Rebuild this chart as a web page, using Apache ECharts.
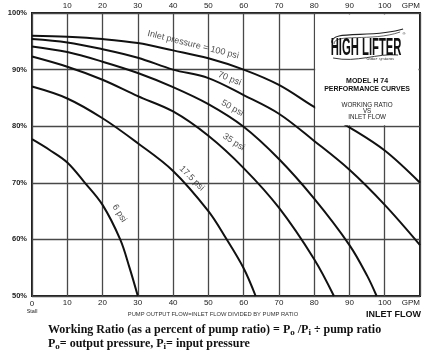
<!DOCTYPE html>
<html><head><meta charset="utf-8">
<script src="https://cdn.jsdelivr.net/npm/echarts@6/dist/echarts.min.js"></script>
<style>html,body{margin:0;padding:0;background:#fff}#c{width:428px;height:361px}</style>
</head><body><div id="c"></div><script>
// Inlet flow (GPM) vs working ratio (%) for each inlet pressure
const psi100 = [[0,96.0],[10,95.8],[20,95.4],[30,94.7],[40,93.4],[50,92.0],[60,90.0],[70,87.3],[80,83.4],[90,79.8],[100,75.7],[110,70.0]];
const psi70  = [[0,95.4],[10,94.8],[20,93.6],[30,92.1],[40,90.0],[50,88.5],[60,85.5],[70,82.2],[80,77.4],[90,72.3],[100,66.1],[110,59.0]];
const psi50  = [[0,94.1],[10,93.1],[20,91.4],[30,89.4],[40,86.9],[50,83.9],[60,79.9],[70,74.2],[80,67.2],[90,59.0],[95,53.6],[97.7,50]];
const psi35  = [[0,92.3],[10,90.5],[20,88.2],[30,85.3],[40,82.6],[50,78.3],[60,72.6],[70,65.6],[80,56.5],[85.6,50]];
const psi17  = [[0,87.0],[10,84.9],[20,81.4],[30,77.0],[40,72.1],[50,65.0],[55,60.2],[60,54.9],[63.4,50]];
const psi6   = [[0,77.7],[5,75.8],[10,73.6],[15,70.0],[20,66.1],[25,60.0],[27.6,55.1],[30,50]];
const curves = [psi100, psi70, psi50, psi35, psi17, psi6];

const curveLabels = ['Inlet pressure = 100 psi','70 psi','50 psi','35 psi','17.5 psi','6 psi'];
const labelAnchors = [[45.7,94.4],[56.0,88.4],[56.8,83.2],[57.2,77.2],[45.3,70.8],[24.8,64.6]];
const labelAngles = [-14,-22,-30,-33,-45,-58];

const xMin = 0, xMax = 110, xStep = 10;
const yMin = 50, yMax = 100, yStep = 10;

const chart = echarts.init(document.getElementById('c'), null, {renderer:'canvas'});
const tickFont = {fontFamily:'Liberation Sans, Arial, sans-serif', fontSize:8, color:'#222'};

const option = {
  backgroundColor:'#fff',
  animation:false,
  grid:{left:32, right:8, top:13, bottom:65, show:true, borderColor:'#1a1a1a', borderWidth:2, containLabel:false},
  xAxis:[{
    type:'value', min:xMin, max:xMax, interval:xStep, position:'bottom',
    axisLine:{show:false}, axisTick:{show:false},
    splitLine:{show:true, lineStyle:{color:'#484848', width:1.3}},
    axisLabel:Object.assign({margin:3, alignMaxLabel:'right',
      formatter:v => v===0 ? '{a|0}\n{s|Stall}' : (v===xMax ? 'GPM' : String(v)),
      rich:{a:{fontSize:8, fontFamily:'Liberation Sans, Arial, sans-serif', color:'#222', lineHeight:9},
            s:{fontSize:5.5, fontFamily:'Liberation Sans, Arial, sans-serif', color:'#222', lineHeight:7}}
    }, tickFont)
  },{
    type:'value', min:xMin, max:xMax, interval:xStep, position:'top',
    axisLine:{show:false}, axisTick:{show:false}, splitLine:{show:false},
    axisLabel:Object.assign({margin:3, alignMaxLabel:'right',
      formatter:v => v===0 ? '' : (v===xMax ? 'GPM' : String(v))}, tickFont)
  }],
  yAxis:{
    type:'value', min:yMin, max:yMax, interval:yStep,
    axisLine:{show:false}, axisTick:{show:false},
    splitLine:{show:true, lineStyle:{color:'#484848', width:1.3}},
    axisLabel:{margin:5, formatter:'{value}%', fontFamily:'Liberation Sans, Arial, sans-serif', fontSize:7.5, fontWeight:'bold', color:'#222'}
  },
  series: curves.map(d => ({
    type:'line', data:d, symbol:'none', smooth:0.35,
    lineStyle:{color:'#111', width:2}, z:3
  })).concat([{
    type:'scatter', symbolSize:0, z:4,
    data: labelAnchors.map((p,i) => ({value:p, label:{formatter:curveLabels[i], rotate:labelAngles[i]}})),
    label:{show:true, position:'inside', fontFamily:'Liberation Sans, Arial, sans-serif', fontSize:9, color:'#222'}
  }])
};
chart.setOption(option);

const p1 = chart.convertToPixel({gridIndex:0}, [80,100]);
const p2 = chart.convertToPixel({gridIndex:0}, [110,80]);
const cx = (p1[0]+p2[0])/2;
const boxTop = p1[1];
const bottomY = chart.convertToPixel({gridIndex:0}, [0,50])[1];
const sansB = 'Liberation Sans, Arial, sans-serif';
const serifB = 'Liberation Serif, Times New Roman, serif';
const richFormula = {
  m:{fontFamily:serifB, fontWeight:'bold', fontSize:12, fill:'#111', lineHeight:14, verticalAlign:'top'},
  s:{fontFamily:serifB, fontWeight:'bold', fontSize:9, fill:'#111', lineHeight:14, verticalAlign:'bottom'}
};

const graphics = [
  {type:'rect', z:50, shape:{x:p1[0]+1, y:p1[1]+1.5, width:p2[0]-p1[0]-2.5, height:p2[1]-p1[1]-2.5}, style:{fill:'#fff'}},
  // logo swoosh
  {type:'bezierCurve', z:51, shape:{x1:cx-35, y1:boxTop+30, cpx1:cx-38, cpy1:boxTop+16, cpx2:cx+5, cpy2:boxTop+26, x2:cx+36, y2:boxTop+16}, style:{stroke:'#222', lineWidth:1.1, fill:null}},
  {type:'bezierCurve', z:51, shape:{x1:cx-33, y1:boxTop+31, cpx1:cx-34, cpy1:boxTop+20, cpx2:cx+5, cpy2:boxTop+29, x2:cx+33, y2:boxTop+19}, style:{stroke:'#222', lineWidth:0.7, fill:null}},
  {type:'bezierCurve', z:51, shape:{x1:cx-34, y1:boxTop+45, cpx1:cx-10, cpy1:boxTop+50, cpx2:cx+10, cpy2:boxTop+40, x2:cx+31, y2:boxTop+42}, style:{stroke:'#222', lineWidth:0.9, fill:null}},
  {type:'text', z:52, x:cx-1, y:boxTop+35, scaleX:0.47, style:{x:0, y:0, text:'HIGH LIFTER', fontFamily:sansB, fontWeight:'bold', fontSize:24, fill:'#111', textAlign:'center', textVerticalAlign:'middle'}},
  {type:'text', z:52, x:cx+37, y:boxTop+21, style:{text:'®', fontFamily:sansB, fontSize:4, fill:'#222', textAlign:'center', textVerticalAlign:'middle'}},
  {type:'text', z:52, x:cx+13, y:boxTop+46, style:{text:'water systems', fontFamily:serifB, fontStyle:'italic', fontSize:5, fill:'#222', textAlign:'center', textVerticalAlign:'middle'}},
  {type:'text', z:52, x:cx, y:boxTop+68, style:{text:'MODEL H 74', fontFamily:sansB, fontWeight:'bold', fontSize:7, fill:'#111', textAlign:'center', textVerticalAlign:'middle'}},
  {type:'text', z:52, x:cx, y:boxTop+76.5, style:{text:'PERFORMANCE CURVES', fontFamily:sansB, fontWeight:'bold', fontSize:7, fill:'#111', textAlign:'center', textVerticalAlign:'middle'}},
  {type:'text', z:52, x:cx, y:boxTop+92, style:{text:'WORKING RATIO', fontFamily:sansB, fontSize:6.3, fill:'#222', textAlign:'center', textVerticalAlign:'middle'}},
  {type:'text', z:52, x:cx, y:boxTop+98, style:{text:'VS', fontFamily:sansB, fontSize:6.3, fill:'#222', textAlign:'center', textVerticalAlign:'middle'}},
  {type:'text', z:52, x:cx, y:boxTop+104, style:{text:'INLET FLOW', fontFamily:sansB, fontSize:6.3, fill:'#222', textAlign:'center', textVerticalAlign:'middle'}},
  // under axis
  {type:'text', z:52, x:213, y:bottomY+18.5, style:{text:'PUMP OUTPUT FLOW=INLET FLOW DIVIDED BY PUMP RATIO', fontFamily:sansB, fontSize:5.8, fill:'#333', textAlign:'center', textVerticalAlign:'middle'}},
  {type:'text', z:52, x:p2[0]+1, y:bottomY+18.5, style:{text:'INLET FLOW', fontFamily:sansB, fontWeight:'bold', fontSize:9, fill:'#111', textAlign:'right', textVerticalAlign:'middle'}},
  // formula lines
  {type:'text', z:52, x:48, y:323.5, style:{
    text:'{m|Working Ratio (as a percent of pump ratio) = P}{s|o}{m| /P}{s|i}{m| ÷ pump ratio}', rich:richFormula}},
  {type:'text', z:52, x:48, y:337.5, style:{
    text:'{m|P}{s|o}{m|= output pressure, P}{s|i}{m|= input pressure}', rich:richFormula}}
];
chart.setOption({graphic:graphics});
</script></body></html>
